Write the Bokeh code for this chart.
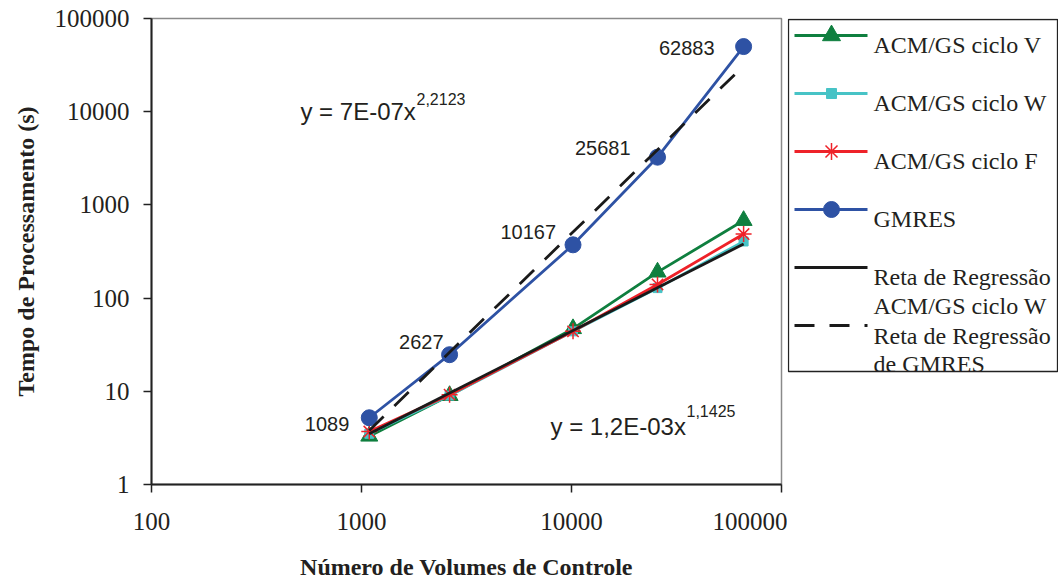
from bokeh.plotting import figure
from bokeh.layouts import row
from bokeh.models import Range1d, FixedTicker, PrintfTickFormatter, Label
from bokeh.core.properties import value
from bokeh.embed import file_html
from bokeh.resources import INLINE

# ---------------- data ----------------
x_vals = [1089, 2627, 10167, 25681, 66000]
x_labels = ["1089", "2627", "10167", "25681", "62883"]
gmres = [5.2, 24.7, 373, 3250, 50000]
ciclo_v = [3.3, 9.0, 47, 190, 680]
ciclo_w = [3.5, 9.0, 44, 128, 405]
ciclo_f = [3.7, 9.2, 44, 140, 487]
reg_x = [1089, 66000]
reg_w = [3.5, 380]
reg_gmres = [3.8, 31000]
x_ticks = [100, 1000, 10000, 100000]
y_ticks = [1, 10, 100, 1000, 10000, 100000]
eq1_base, eq1_sup = "y = 7E-07x", "2,2123"
eq2_base, eq2_sup = "y = 1,2E-03x", "1,1425"
legend_labels = ["ACM/GS ciclo V", "ACM/GS ciclo W", "ACM/GS ciclo F", "GMRES",
                 "Reta de Regressão", "ACM/GS ciclo W", "Reta de Regressão", "de GMRES"]

GREEN, CYAN, RED, BLUE, BLACK = "#0F7F3F", "#47C3C6", "#EE2229", "#2E52A4", "#1a1a1a"
SERIF, SANS = "Liberation Serif", "Liberation Sans"
TOP, BOTTOM, H = 18, 99, 583

# ---------------- main plot ----------------
p = figure(width=787, height=H, x_axis_type="log", y_axis_type="log",
           x_range=Range1d(100, 100000), y_range=Range1d(1, 100000),
           min_border_left=151, min_border_right=6, min_border_top=TOP, min_border_bottom=BOTTOM,
           output_backend="svg", toolbar_location=None)
p.grid.visible = False
p.outline_line_color = "#8a8a8a"
p.outline_line_width = 1.5

p.xaxis.ticker = FixedTicker(ticks=x_ticks)
p.yaxis.ticker = FixedTicker(ticks=y_ticks)
for ax in (p.xaxis, p.yaxis):
    ax.formatter = PrintfTickFormatter(format="%d")
    ax.minor_tick_line_color = None
    ax.major_tick_in = 0
    ax.major_tick_out = 8
    ax.axis_line_color = "#222222"
    ax.axis_line_width = 2
    ax.major_tick_line_color = "#222222"
    ax.major_tick_line_width = 1.5
    ax.major_label_text_font = SERIF
    ax.major_label_text_font_size = "25px"
    ax.major_label_text_color = "#231f20"
    ax.axis_label_text_font = SERIF
    ax.axis_label_text_font_style = "bold"
    ax.axis_label_text_font_size = "24px"
    ax.axis_label_text_color = "#231f20"
p.xaxis.major_label_standoff = 20
p.yaxis.major_label_standoff = 14
p.xaxis.axis_label = "Número de Volumes de Controle"
p.yaxis.axis_label = "Tempo de Processamento (s)"
p.xaxis.axis_label_standoff = 21
p.yaxis.axis_label_standoff = 13

# series
p.line(x_vals, ciclo_v, color=GREEN, line_width=2.8)
p.scatter(x_vals, ciclo_v, marker="triangle", size=17, color=GREEN)
p.line(x_vals, ciclo_w, color=CYAN, line_width=2.8)
p.scatter(x_vals, ciclo_w, marker="square", size=9, color=CYAN)
p.line(x_vals, ciclo_f, color=RED, line_width=2.8)
p.scatter(x_vals, ciclo_f, marker="asterisk", size=16, line_color=RED, line_width=1.5)
p.line(x_vals, gmres, color=BLUE, line_width=2.8)
p.scatter(x_vals, gmres, marker="circle", size=16, color=BLUE)
p.line(reg_x, reg_w, color=BLACK, line_width=2.8)
p.line(reg_x, reg_gmres, color=BLACK, line_width=2.8, line_dash="20 15")

# data labels
p.text(x=x_vals, y=gmres, text=x_labels,
       x_offset=[-20, -6, -17, -27, -29], y_offset=[6, -13, -13, -9, 1],
       text_font=value(SANS), text_font_size="20px", text_color="#231f20",
       text_align="right", text_baseline="alphabetic")

# equations
for bx, by, bt, sx, sy, st in [(512, 10100, eq1_base, 1828, 13680, eq1_sup),
                               (7943, 4.22, eq2_base, 35290, 6.09, eq2_sup)]:
    p.add_layout(Label(x=bx, y=by, text=bt, text_font=SANS, text_font_size="24px",
                       text_color="#231f20", text_baseline="alphabetic", text_align="left"))
    p.add_layout(Label(x=sx, y=sy, text=st, text_font=SANS, text_font_size="16px",
                       text_color="#231f20", text_baseline="alphabetic", text_align="left"))

# ---------------- legend panel (same top/bottom borders as the main plot) ----------------
frame_h = H - TOP - BOTTOM
lf = figure(width=271, height=H, x_range=Range1d(0, 271), y_range=Range1d(frame_h, 0),
            min_border_left=0, min_border_right=0, min_border_top=TOP, min_border_bottom=BOTTOM,
            x_axis_location=None, y_axis_location=None,
            output_backend="svg", toolbar_location=None)
lf.grid.visible = False
lf.outline_line_color = None

# legend box: page y 17..371  -> frame y offset by TOP
oy = -TOP
lf.quad(left=1, right=270, top=1, bottom=371 + oy, fill_color=None, line_color="#222222", line_width=1.3)
row_y = [35 + oy, 93 + oy, 151 + oy, 209 + oy, 267 + oy, 325 + oy]
sw_colors = [GREEN, CYAN, RED, BLUE, BLACK, BLACK]
for i in range(5):
    lf.line([7, 80], [row_y[i], row_y[i]], color=sw_colors[i], line_width=2.8)
lf.line([7, 80], [row_y[5], row_y[5]], color=BLACK, line_width=2.8, line_dash="20 15")
lf.scatter([44], [row_y[0]], marker="triangle", size=18, color=GREEN)
lf.scatter([44], [row_y[1]], marker="square", size=10, color=CYAN)
lf.scatter([44], [row_y[2]], marker="asterisk", size=17, line_color=RED, line_width=1.5)
lf.scatter([44], [row_y[3]], marker="circle", size=16, color=BLUE)
text_y = [v + oy for v in [44.7, 102, 160, 218, 276, 305, 335, 363]]
lf.text(x=[86] * 8, y=text_y, text=legend_labels,
        text_font=value(SERIF), text_font_size="24px", text_color="#231f20",
        text_baseline="alphabetic", text_align="left")

layout = row(p, lf)
open("out.html", "w").write(file_html(layout, INLINE))
